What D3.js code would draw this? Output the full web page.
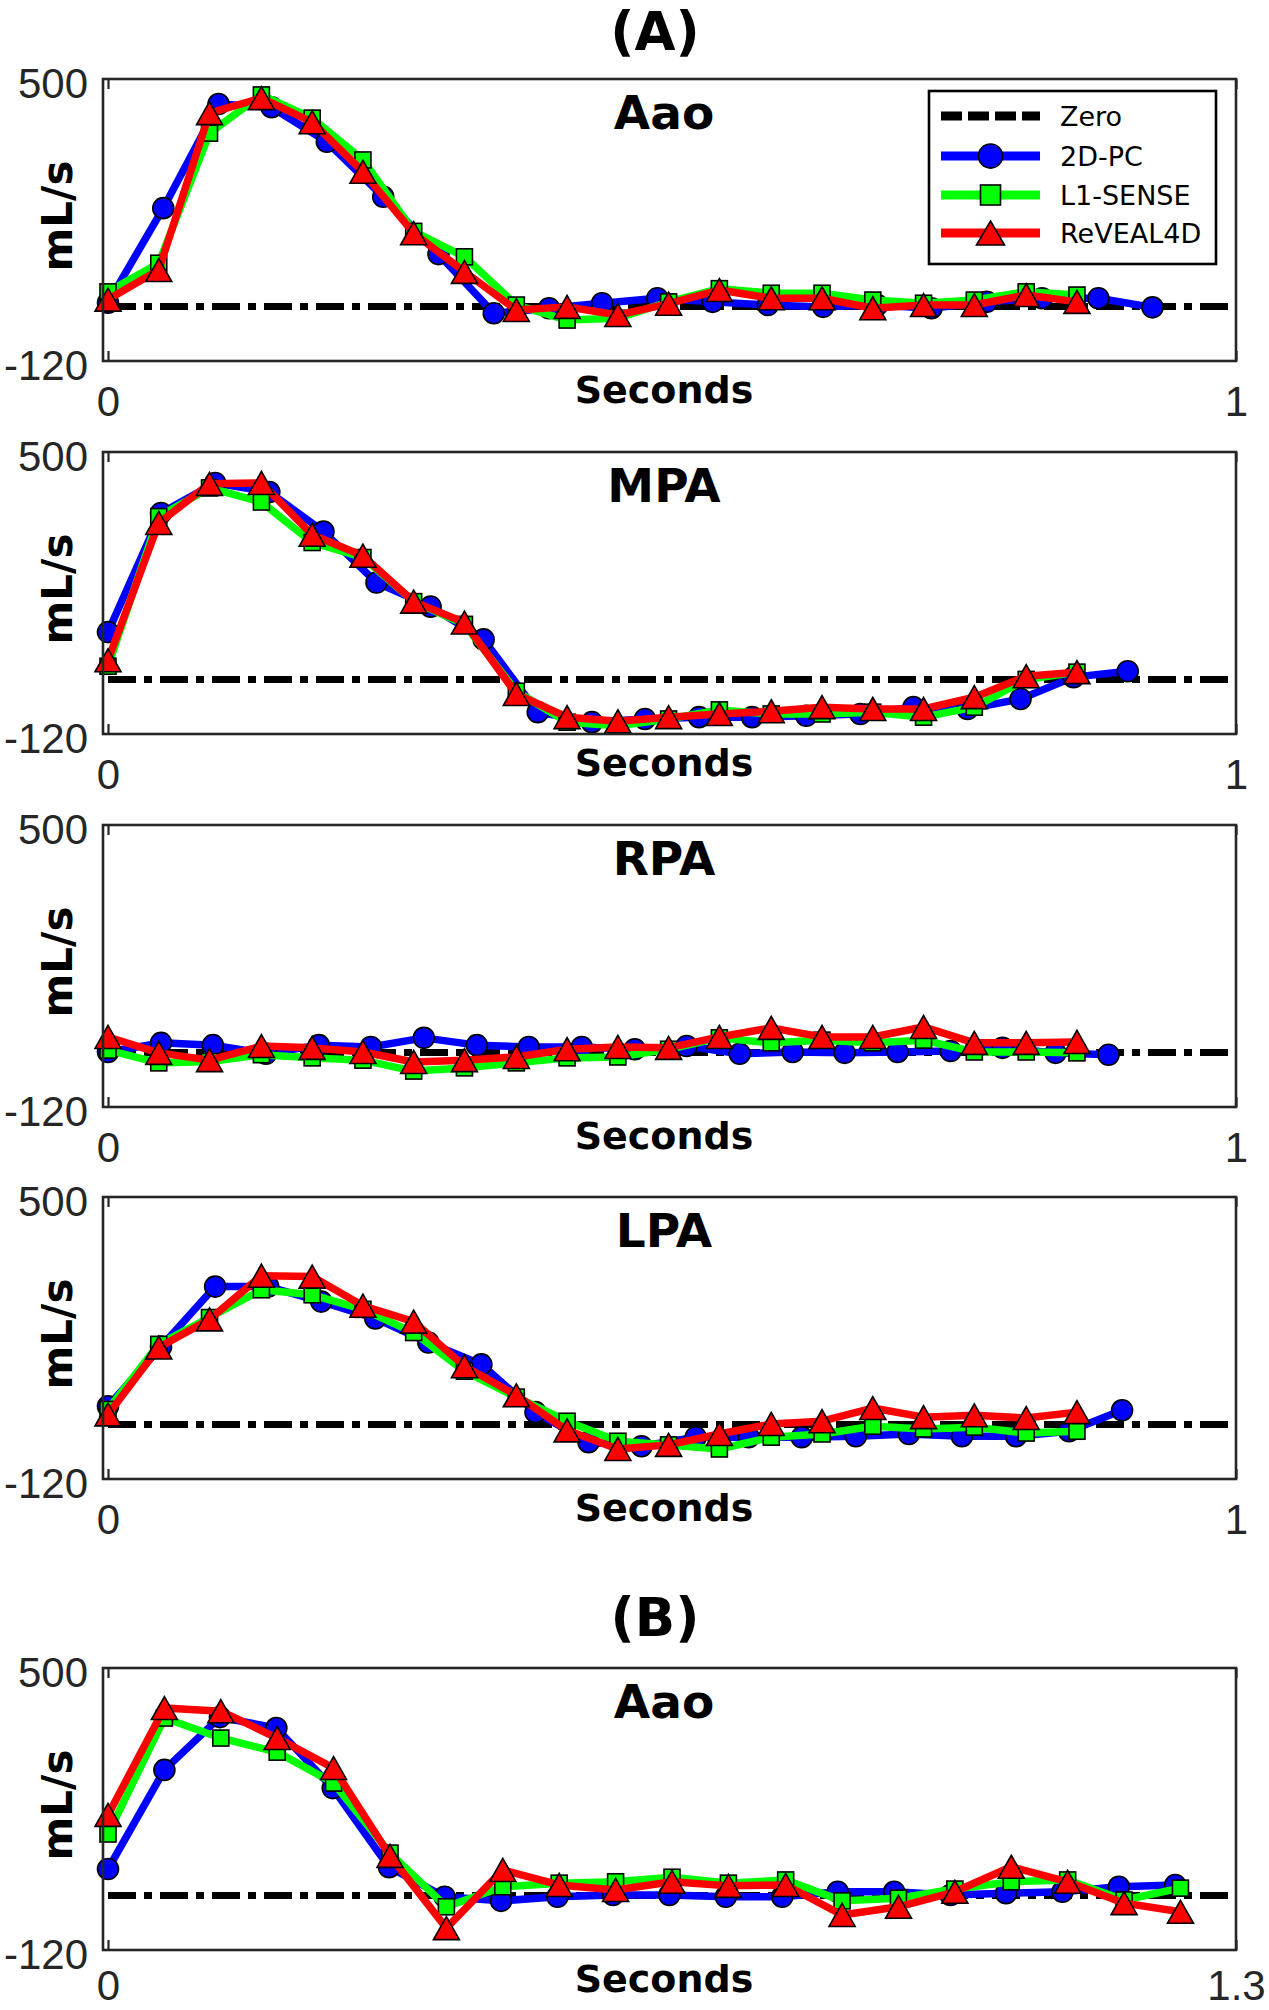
<!DOCTYPE html>
<html><head><meta charset="utf-8">
<script src="https://cdn.jsdelivr.net/npm/d3@7"></script>
<style>body{margin:0;background:#fff}</style>
</head><body>
<svg id="c" width="1269" height="2010" xmlns="http://www.w3.org/2000/svg"></svg>
<script>
// ---------------- data ----------------
const seriesNames = ["Zero", "2D-PC", "L1-SENSE", "ReVEAL4D"];
const panelTitles = ["Aao", "MPA", "RPA", "LPA", "Aao"];
const groupTitles = ["(A)", "(B)"];
const yTicks = [-120, 500];
const yTickLabels = ["-120", "500"];
const xTicksA = [0, 1];
const xTicksB = [0, 1.3];

// time stamps (s)
const tReconA = [0, 0.045, 0.090, 0.136, 0.181, 0.226, 0.271, 0.316, 0.362, 0.407, 0.452, 0.497, 0.542, 0.588, 0.633, 0.678, 0.723, 0.768, 0.814, 0.859];
const t2dAaoA = [0, 0.049, 0.098, 0.145, 0.194, 0.244, 0.293, 0.342, 0.391, 0.438, 0.487, 0.536, 0.585, 0.634, 0.682, 0.730, 0.779, 0.828, 0.878, 0.926];
const t2dMPA  = [0, 0.047, 0.095, 0.143, 0.191, 0.238, 0.286, 0.333, 0.381, 0.429, 0.476, 0.524, 0.571, 0.619, 0.667, 0.714, 0.762, 0.809, 0.856, 0.904];
const t2dRPA  = [0, 0.047, 0.093, 0.140, 0.187, 0.233, 0.280, 0.327, 0.373, 0.420, 0.467, 0.513, 0.560, 0.607, 0.653, 0.700, 0.747, 0.793, 0.840, 0.887];
const t2dLPA  = [0, 0.047, 0.095, 0.142, 0.189, 0.237, 0.284, 0.331, 0.379, 0.426, 0.473, 0.521, 0.568, 0.615, 0.663, 0.710, 0.757, 0.805, 0.852, 0.899];
const t2dAaoB = [0, 0.065, 0.129, 0.194, 0.259, 0.324, 0.388, 0.453, 0.518, 0.582, 0.647, 0.712, 0.777, 0.841, 0.906, 0.971, 1.035, 1.100, 1.165, 1.230];
const tReconB = [0, 0.065, 0.130, 0.195, 0.260, 0.325, 0.390, 0.455, 0.520, 0.585, 0.650, 0.715, 0.781, 0.846, 0.911, 0.976, 1.041, 1.106, 1.171, 1.236];

// flow (mL/s)
const aaoA_2dpc = [8, 216, 445, 438, 362, 241, 115, -15, -4, 7, 18, 10, 3, -1, 3, -4, 10, 18, 18, -2];
const aaoA_l1   = [32, 95, 381, 465, 414, 322, 165, 109, 3, -30, -26, 10, 39, 29, 29, 14, 7, 14, 32, 25];
const aaoA_rev  = [15, 80, 425, 458, 405, 296, 161, 76, -8, -1, -19, 6, 36, 18, 18, -4, 3, 3, 25, 10];

const mpa_2dpc = [104, 366, 432, 412, 325, 213, 160, 88, -72, -94, -87, -83, -83, -80, -76, -61, -65, -43, 5, 18];
const mpa_l1   = [29, 358, 421, 390, 301, 268, 171, 121, -26, -94, -102, -87, -67, -76, -76, -72, -83, -61, 0, 16];
const mpa_rev  = [42, 344, 430, 432, 318, 272, 171, 125, -32, -83, -92, -83, -76, -70, -61, -65, -65, -39, 7, 16];

const rpa_2dpc = [1, 21, 16, -3, 16, 12, 32, 16, 12, 12, 7, 14, -3, 1, -1, 1, 3, 10, -1, -5];
const rpa_l1   = [5, -23, -20, -5, -12, -17, -41, -34, -23, -12, -10, 7, 32, 21, 27, 21, 27, 1, 1, -1];
const rpa_rev  = [34, -1, -17, 14, 10, 1, -21, -17, -10, 7, 12, 10, 34, 54, 34, 34, 56, 21, 21, 23];

const lpa_2dpc = [40, 171, 303, 303, 270, 233, 180, 132, 27, -39, -48, -28, -28, -28, -26, -21, -26, -26, -15, 31];
const lpa_l1   = [33, 176, 235, 296, 285, 253, 202, 117, 60, 7, -37, -45, -54, -28, -21, -4, -10, -6, -19, -15];
const lpa_rev  = [22, 169, 231, 327, 325, 261, 226, 128, 64, -13, -54, -45, -21, 1, 7, 36, 16, 20, 14, 27];

const aaoB_2dpc = [58, 276, 392, 368, 236, 62, -3, -12, -3, 1, 1, -3, -3, 8, 8, 1, 5, 8, 19, 23];
const aaoB_l1   = [135, 390, 346, 315, 247, 93, -25, 19, 27, 30, 40, 27, 34, -12, -6, 14, 30, 34, -10, 16];
const aaoB_rev  = [177, 412, 405, 346, 280, 87, -72, 56, 23, 12, 30, 21, 23, -43, -25, 8, 63, 30, -17, -36];

// ---------------- drawing ----------------
const svg = d3.select("#c");
svg.append("rect").attr("width", 1269).attr("height", 2010).attr("fill", "#fff");

const colors = ["#000000", "#0000ff", "#00ff00", "#ff0000"];
const panels = [
  {top: 79,   title: panelTitles[0], xt: xTicksA, t2d: t2dAaoA, tr: tReconA, s: [aaoA_2dpc, aaoA_l1, aaoA_rev], legend: true},
  {top: 452,  title: panelTitles[1], xt: xTicksA, t2d: t2dMPA,  tr: tReconA, s: [mpa_2dpc, mpa_l1, mpa_rev]},
  {top: 825,  title: panelTitles[2], xt: xTicksA, t2d: t2dRPA,  tr: tReconA, s: [rpa_2dpc, rpa_l1, rpa_rev]},
  {top: 1197, title: panelTitles[3], xt: xTicksA, t2d: t2dLPA,  tr: tReconA, s: [lpa_2dpc, lpa_l1, lpa_rev]},
  {top: 1668, title: panelTitles[4], xt: xTicksB, t2d: t2dAaoB, tr: tReconB, s: [aaoB_2dpc, aaoB_l1, aaoB_rev], lastPanel: true}
];

const H = 282, boxL = 103, x0 = 108, x1 = 1236;
const tickFont = "'Liberation Sans', Arial, Helvetica, sans-serif";
const boldFont = "'DejaVu Sans', Verdana, sans-serif";

function marker(g, type, cx, cy, fill, big) {
  const k = big ? 1.15 : 1;
  if (type === 1) {
    g.append("circle").attr("cx", cx).attr("cy", cy).attr("r", 10.5 * k)
      .attr("fill", fill).attr("stroke", "#000").attr("stroke-width", 1.6);
  } else if (type === 2) {
    const s = (big ? 20 : 16);
    g.append("rect").attr("x", cx - s / 2).attr("y", cy - s / 2).attr("width", s).attr("height", s)
      .attr("fill", fill).attr("stroke", "#000").attr("stroke-width", 1.6);
  } else {
    const w = (big ? 28 : 26) / 2, h = (big ? 24 : 23) / 2;
    g.append("path").attr("d", `M${cx},${cy - h}L${cx + w},${cy + h}L${cx - w},${cy + h}Z`)
      .attr("fill", fill).attr("stroke", "#000").attr("stroke-width", 1.6).attr("stroke-linejoin", "miter");
  }
}

panels.forEach((p, pi) => {
  const bottom = p.top + H;
  const xmax = p.xt[1];
  const x = d3.scaleLinear().domain([0, xmax]).range([x0, x1]);
  const y = d3.scaleLinear().domain([yTicks[0], yTicks[1]]).range([bottom, p.top]);
  const g = svg.append("g");

  // zero line
  g.append("line").attr("x1", x(0)).attr("x2", x(xmax)).attr("y1", y(0)).attr("y2", y(0))
    .attr("stroke", "#000").attr("stroke-width", 7).attr("stroke-dasharray", "28,8,8,8");

  // series
  const times = [p.t2d, p.tr, p.tr];
  p.s.forEach((vals, si) => {
    const pts = vals.map((v, i) => [times[si][i], v]);
    const line = d3.line().x(d => x(d[0])).y(d => y(d[1]));
    g.append("path").attr("d", line(pts)).attr("fill", "none")
      .attr("stroke", colors[si + 1]).attr("stroke-width", 7.5).attr("stroke-linejoin", "round");
    pts.forEach(d => marker(g, si + 1, x(d[0]), y(d[1]), colors[si + 1], false));
  });

  // box
  g.append("rect").attr("x", boxL).attr("y", p.top).attr("width", x1 - boxL).attr("height", H)
    .attr("fill", "none").attr("stroke", "#262626").attr("stroke-width", 2.6);

  // axes
  const ax = g.append("g").attr("transform", `translate(0,${bottom})`)
    .call(d3.axisBottom(x).tickValues(p.xt).tickSize(-10).tickPadding(0).tickFormat(d => String(d)));
  const axT = g.append("g").attr("transform", `translate(0,${p.top})`)
    .call(d3.axisTop(x).tickValues(p.xt).tickSize(-10).tickFormat(""));
  const ay = g.append("g").attr("transform", `translate(${boxL},0)`)
    .call(d3.axisLeft(y).tickValues(yTicks).tickSize(0).tickPadding(15)
      .tickFormat((d, i) => yTickLabels[i]));
  [ax, axT, ay].forEach(a => {
    a.select(".domain").remove();
    a.selectAll("line").attr("stroke", "#262626").attr("stroke-width", 2.2);
    a.selectAll("text").attr("font-family", tickFont).attr("font-size", 42).attr("fill", "#262626");
  });
  ax.selectAll("text").attr("y", p.lastPanel ? 50 : 55).attr("dy", 0);
  ay.selectAll("text").attr("dy", "0.45em");

  // labels
  g.append("text").attr("x", 664).attr("y", bottom + 42).attr("text-anchor", "middle")
    .attr("font-family", boldFont).attr("font-weight", "bold").attr("font-size", 38).text("Seconds");
  g.append("text").attr("transform", `translate(72,${p.top + H / 2 - 4}) rotate(-90)`).attr("text-anchor", "middle")
    .attr("font-family", boldFont).attr("font-weight", "bold").attr("font-size", 42).text("mL/s");
  g.append("text").attr("x", 664).attr("y", p.top + 50).attr("text-anchor", "middle")
    .attr("font-family", boldFont).attr("font-weight", "bold").attr("font-size", 47).text(p.title);

  // legend
  if (p.legend) {
    const lg = svg.append("g");
    lg.append("rect").attr("x", 929).attr("y", 91).attr("width", 287).attr("height", 173)
      .attr("fill", "#fff").attr("stroke", "#000").attr("stroke-width", 2.6);
    const ys = [116, 156, 195, 233];
    seriesNames.forEach((n, i) => {
      const ly = ys[i];
      const ln = lg.append("line").attr("x1", 941).attr("x2", 1040).attr("y1", ly).attr("y2", ly)
        .attr("stroke", colors[i]).attr("stroke-width", 9);
      if (i === 0) ln.attr("stroke-dasharray", "21,6");
      else marker(lg, i, 990.5, ly, colors[i], true);
      lg.append("text").attr("x", 1060).attr("y", ly + 10).attr("font-family", "'DejaVu Sans', Verdana, sans-serif")
        .attr("font-size", 27).attr("fill", "#000").text(n);
    });
  }
});

// group titles
svg.append("text").attr("x", 655).attr("y", 50).attr("text-anchor", "middle")
  .attr("font-family", boldFont).attr("font-weight", "bold").attr("font-size", 53).text(groupTitles[0]);
svg.append("text").attr("x", 655).attr("y", 1636).attr("text-anchor", "middle")
  .attr("font-family", boldFont).attr("font-weight", "bold").attr("font-size", 53).text(groupTitles[1]);
</script>
</body></html>
